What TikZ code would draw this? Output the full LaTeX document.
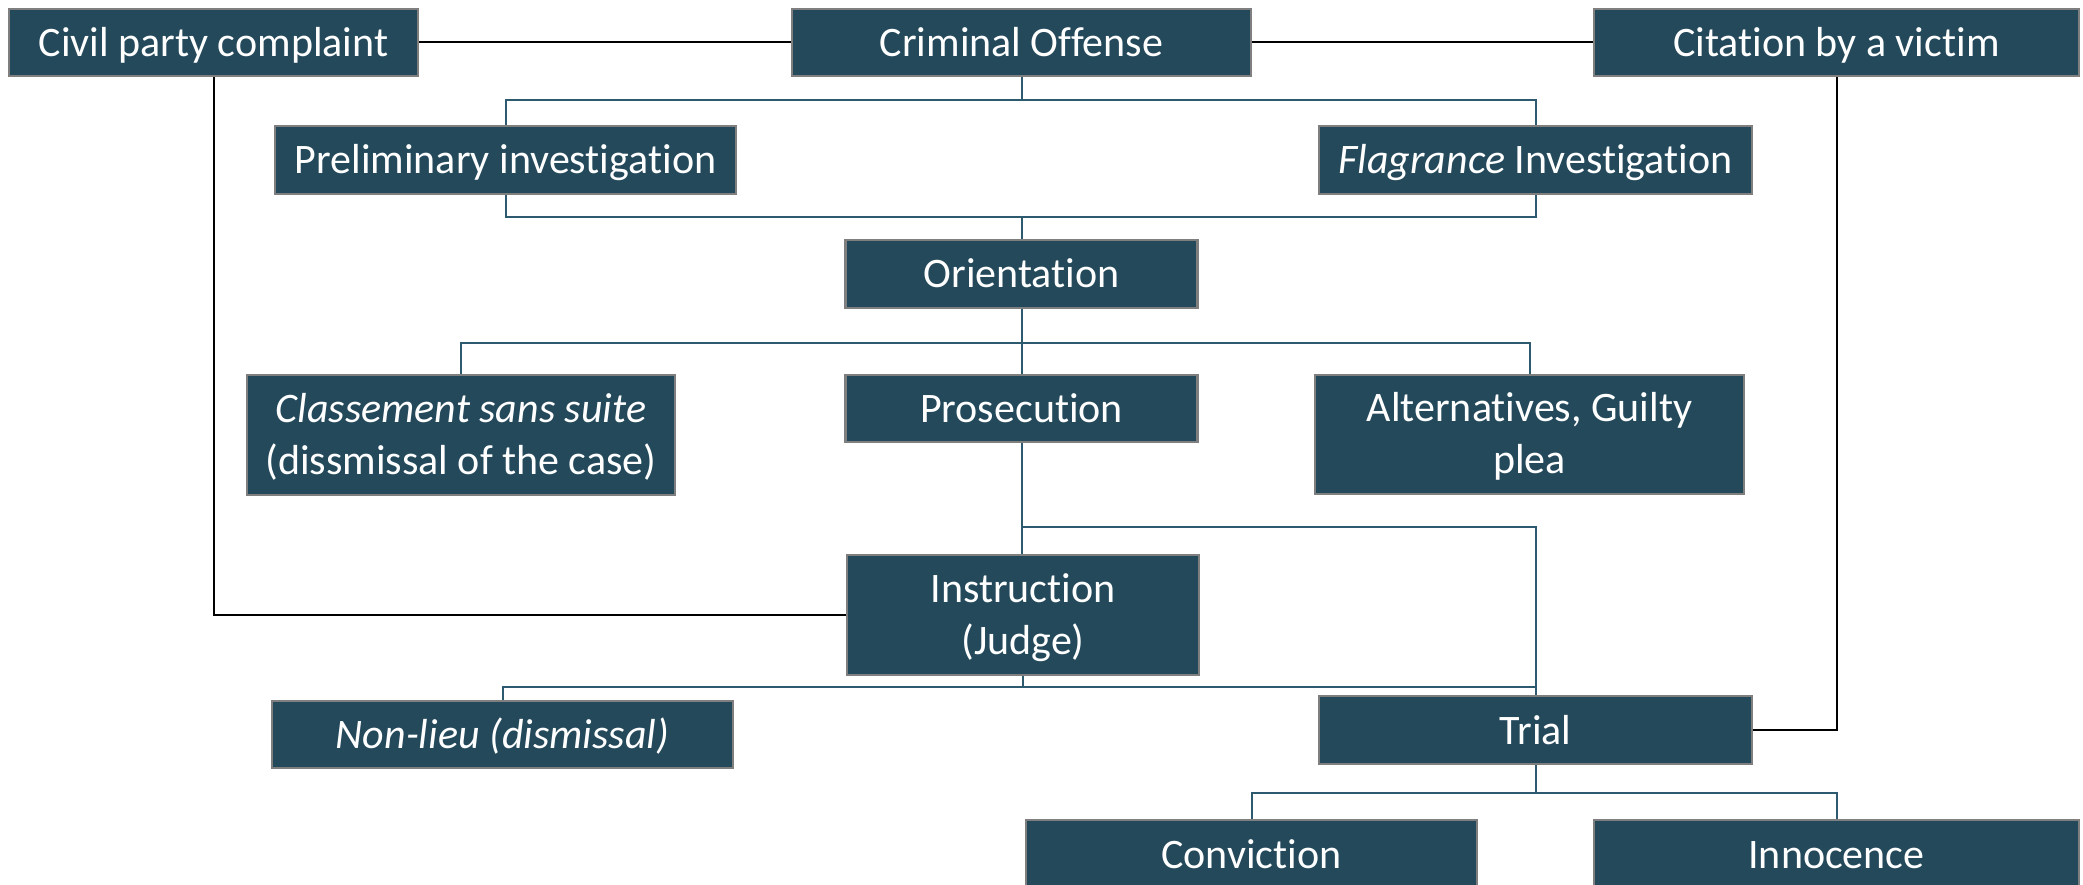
\documentclass[tikz,border=0pt]{standalone}
\usepackage{fontspec}
\setmainfont[Ligatures={NoCommon}]{Carlito}
\definecolor{boxfill}{HTML}{23495B}
\definecolor{boxdraw}{HTML}{7F7F7F}
\definecolor{tline}{HTML}{2E5A70}
\newcommand{\twoline}[2]{\begin{tabular}[t]{@{}c@{}}#1\\#2\end{tabular}}
\tikzset{
  box/.style={draw=boxdraw, line width=2.5pt, fill=boxfill, text=white, inner sep=0pt,
    font=\fontsize{42}{52}\selectfont, text height=33pt, text depth=5pt},
  boxtwo/.style={box, text height=5pt, text depth=31pt},
  tconn/.style={draw=tline, line width=2pt},
  bconn/.style={draw=black, line width=2pt}
}
\begin{document}
\begin{tikzpicture}[x=1pt,y=-1pt]
\useasboundingbox (0,0) rectangle (2083,885);
\node[box, minimum width=409pt, minimum height=67pt] (civil) at (213.5,42.5) {Civil party complaint};
\node[box, minimum width=459pt, minimum height=67pt] (crim) at (1021.5,42.5) {Criminal Offense};
\node[box, minimum width=485pt, minimum height=67pt] (cit) at (1836.5,42.5) {Citation by a victim};
\node[box, minimum width=461pt, minimum height=68pt] (prelim) at (505.5,160) {Preliminary investigation};
\node[box, minimum width=433pt, minimum height=68pt] (flag) at (1535.5,160) {\textit{Flagrance} Investigation};
\node[box, minimum width=352pt, minimum height=68pt] (orient) at (1021.5,274) {Orientation};
\node[boxtwo, minimum width=428pt, minimum height=120pt] (class) at (461,435) {\twoline{\textit{Classement sans suite}}{(dissmissal of the case)}};
\node[box, minimum width=352pt, minimum height=67pt] (pros) at (1021.5,408.5) {Prosecution};
\node[boxtwo, minimum width=429pt, minimum height=119pt] (alt) at (1529.5,434.5) {\twoline{Alternatives, Guilty}{plea}};
\node[boxtwo, minimum width=352pt, minimum height=120pt] (instr) at (1023,615) {\twoline{Instruction}{(Judge)}};
\node[box, minimum width=461pt, minimum height=67pt] (nonlieu) at (502.5,734.5) {\textit{Non-lieu (dismissal)}};
\node[box, minimum width=433pt, minimum height=68pt] (trial) at (1535.5,730) {Trial};
\node[box, minimum width=451pt, minimum height=68pt] (conv) at (1251.5,854) {Conviction};
\node[box, minimum width=485pt, minimum height=68pt] (inn) at (1836.5,854) {Innocence};

\coordinate (j1) at (1021.5,100);
\coordinate (j2) at (1021.5,217);
\coordinate (j3) at (1021.5,343);
\coordinate (j4) at (1021.5,527);
\coordinate (j5) at (1023,687);
\coordinate (j6) at (1535.5,793);

\draw[bconn] (civil.east) -- (crim.west);
\draw[bconn] (crim.east) -- (cit.west);
\draw[bconn] (civil.south) |- (instr.west);
\draw[bconn] (cit.south) |- (trial.east);

\draw[tconn] (crim.south) -- (j1);
\draw[tconn] (prelim.north) |- (j1) -| (flag.north);
\draw[tconn] (prelim.south) |- (j2) -| (flag.south);
\draw[tconn] (j2) -- (orient.north);
\draw[tconn] (orient.south) -- (j3);
\draw[tconn] (class.north) |- (j3) -| (alt.north);
\draw[tconn] (j3) -- (pros.north);
\draw[tconn] (pros.south) -- (j4) -- (j4 |- instr.north);
\draw[tconn] (j4) -| (trial.north);
\draw[tconn] (instr.south) -- (j5);
\draw[tconn] (nonlieu.north) |- (j5) -| (trial.north);
\draw[tconn] (trial.south) -- (j6);
\draw[tconn] (conv.north) |- (j6) -| (inn.north);
\end{tikzpicture}
\end{document}
